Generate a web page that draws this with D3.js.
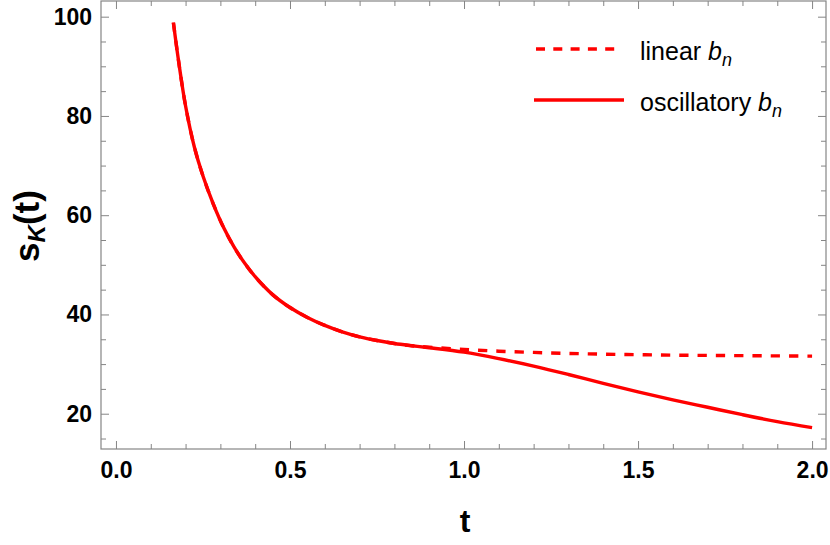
<!DOCTYPE html>
<html><head><meta charset="utf-8">
<script src="https://cdn.jsdelivr.net/npm/d3@7"></script>
<style>body{margin:0;background:#fff}svg{display:block}</style>
</head><body>
<svg id="c" width="830" height="545"></svg>
<script>
// data
const tValues = [0.165,0.18,0.20,0.225,0.25,0.28,0.31,0.34,0.37,0.40,0.45,0.50,0.55,0.60,0.65,0.70,0.75,0.80,0.85,0.90,1.0,1.1,1.2,1.3,1.4,1.5,1.6,1.7,1.8,1.9,2.0];
const linearB = [98.8,91.0,82.0,73.8,67.9,62.2,57.4,53.5,50.3,47.6,44.0,41.4,39.4,37.8,36.5,35.5,34.75,34.15,33.7,33.4,32.95,32.6,32.35,32.15,32.0,31.9,31.8,31.75,31.7,31.65,31.6];
const oscillatoryB = [98.8,91.0,82.0,73.8,67.9,62.2,57.4,53.5,50.3,47.6,44.0,41.4,39.4,37.8,36.5,35.5,34.75,34.15,33.7,33.3,32.4,31.1,29.6,27.9,26.1,24.4,22.8,21.3,19.8,18.4,17.2];
const xMajor = [0,0.5,1.0,1.5,2.0];
const xMinor = [0.1,0.2,0.3,0.4,0.6,0.7,0.8,0.9,1.1,1.2,1.3,1.4,1.6,1.7,1.8,1.9];
const yMajor = [20,40,60,80,100];
const yMinor = [15,25,30,35,45,50,55,65,70,75,85,90,95];
const seriesNames = ["linear", "oscillatory"];

const svg = d3.select("#c");
const L=101,R=826,T=1,B=449;
const x = d3.scaleLinear().domain([-0.043,2.040]).range([L,R]);
const y = d3.scaleLinear().domain([12.89,103.16]).range([B,T]);
const frameColor = "#858585";
const font = "'Liberation Sans', Arial, sans-serif";

function styleAxis(g){
  g.attr("font-size",23).attr("font-family",font);
  g.select(".domain").remove();
  g.selectAll(".tick line").attr("stroke",frameColor).attr("stroke-width",1);
  g.selectAll(".tick text").attr("fill","#000").attr("font-size",23).attr("font-weight","bold")
    .style("font-family",font).style("font-weight","bold").style("font-size","23px");
}
// bottom
svg.append("g").attr("transform",`translate(0,${B})`).call(d3.axisBottom(x).tickValues(xMajor).tickSize(-8).tickPadding(13).tickFormat(d3.format(".1f"))).call(styleAxis);
svg.append("g").attr("transform",`translate(0,${B})`).call(d3.axisBottom(x).tickValues(xMinor).tickSize(-5).tickFormat("")).call(styleAxis);
// top
svg.append("g").attr("transform",`translate(0,${T})`).call(d3.axisTop(x).tickValues(xMajor).tickSize(-8).tickFormat("")).call(styleAxis);
svg.append("g").attr("transform",`translate(0,${T})`).call(d3.axisTop(x).tickValues(xMinor).tickSize(-5).tickFormat("")).call(styleAxis);
// left
svg.append("g").attr("transform",`translate(${L},0)`).call(d3.axisLeft(y).tickValues(yMajor).tickSize(-8).tickPadding(9).tickFormat(d3.format("d"))).call(styleAxis);
svg.append("g").attr("transform",`translate(${L},0)`).call(d3.axisLeft(y).tickValues(yMinor).tickSize(-5).tickFormat("")).call(styleAxis);
// right
svg.append("g").attr("transform",`translate(${R},0)`).call(d3.axisRight(y).tickValues(yMajor).tickSize(-8).tickFormat("")).call(styleAxis);
svg.append("g").attr("transform",`translate(${R},0)`).call(d3.axisRight(y).tickValues(yMinor).tickSize(-5).tickFormat("")).call(styleAxis);

// frame
svg.append("rect").attr("x",L).attr("y",T).attr("width",R-L).attr("height",B-T)
  .attr("fill","none").attr("stroke",frameColor).attr("stroke-width",1.2);

const line = d3.line().x(d=>x(d[0])).y(d=>y(d[1])).curve(d3.curveCatmullRom.alpha(0.5));
svg.append("path").datum(tValues.map((t,i)=>[t,oscillatoryB[i]]))
  .attr("d",line).attr("fill","none").attr("stroke","#ff0000").attr("stroke-width",3.4);
svg.append("path").datum(tValues.map((t,i)=>[t,linearB[i]]))
  .attr("d",line).attr("fill","none").attr("stroke","#ff0000").attr("stroke-width",3.4).attr("stroke-dasharray","9.3,9");

// legend
const lg = svg.append("g");
lg.append("line").attr("x1",536).attr("x2",618).attr("y1",49).attr("y2",49).attr("stroke","#ff0000").attr("stroke-width",3.4).attr("stroke-dasharray","9,8.3");
lg.append("line").attr("x1",534).attr("x2",624).attr("y1",100).attr("y2",100).attr("stroke","#ff0000").attr("stroke-width",3.4);
const labels = [[seriesNames[0]+" ",60],[seriesNames[1]+" ",111]];
labels.forEach(([s,yy])=>{
  const t = lg.append("text").attr("x",640).attr("y",yy).style("font-family",font).style("font-size","25px").attr("fill","#000");
  t.append("tspan").text(s);
  t.append("tspan").style("font-style","italic").text("b");
  t.append("tspan").style("font-style","italic").style("font-size","18px").attr("dy",6).text("n");
});

// axis labels
svg.append("text").attr("x",465).attr("y",532).attr("text-anchor","middle")
  .style("font-family",font).style("font-weight","bold").style("font-size","32px").text("t");
const yl = svg.append("text").attr("transform","translate(39,226) rotate(-90)").attr("text-anchor","middle")
  .style("font-family",font).style("font-weight","bold").style("font-size","35px");
yl.append("tspan").text("s");
yl.append("tspan").style("font-style","italic").style("font-size","24px").attr("dy",6).text("K");
yl.append("tspan").attr("dy",-6).text("(t)");
</script>
</body></html>
